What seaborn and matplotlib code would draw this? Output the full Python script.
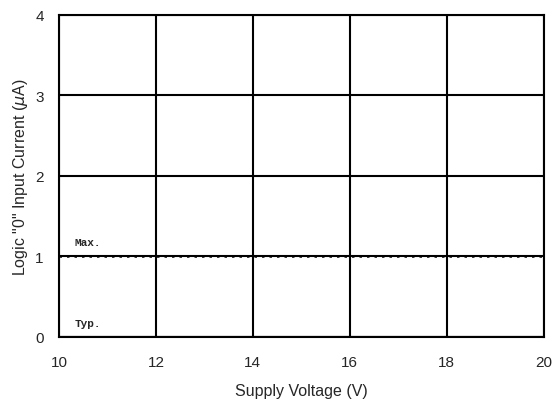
import numpy as np
import pandas as pd
import seaborn as sns
import matplotlib.pyplot as plt

# data
voltage = [10, 12, 14, 16, 18, 20]
i_max = [1.0, 1.0, 1.0, 1.0, 1.0, 1.0]
i_typ = [0.0, 0.0, 0.0, 0.0, 0.0, 0.0]
x_ticks = [10, 12, 14, 16, 18, 20]
y_ticks = [0, 1, 2, 3, 4]

sns.set_style('white')
plt.rcParams['font.family'] = ['Liberation Sans', 'DejaVu Sans']

df = pd.DataFrame({'voltage': voltage, 'max': i_max, 'typ': i_typ})

fig = plt.figure(figsize=(5.56, 4.10), dpi=100)
ax = fig.add_axes([0.106, 0.176, 0.872, 0.785])

sns.lineplot(data=df, x='voltage', y='max', ax=ax, color='black',
             linewidth=1.8, linestyle=(0, (1, 2)))
sns.lineplot(data=df, x='voltage', y='typ', ax=ax, color='black', linewidth=1.5)

ax.set_xlim(10, 20)
ax.set_ylim(0, 4)
ax.set_xticks(x_ticks)
ax.set_yticks(y_ticks)
ax.grid(True, color='black', linewidth=1.5)
for s in ax.spines.values():
    s.set_color('black')
    s.set_linewidth(1.5)
ax.tick_params(axis='x', length=0, labelsize=11, pad=13)
ax.tick_params(axis='y', length=0, labelsize=11, pad=11)

ax.set_xlabel('Supply Voltage (V)', fontsize=11.5, labelpad=10)
ax.set_ylabel('Logic "0" Input Current ($\\mu$A)', fontsize=11.5, labelpad=4)

ax.text(10.33, 1.14, 'Max.', fontsize=8, family='Liberation Mono', fontweight='bold')
ax.text(10.33, 0.14, 'Typ.', fontsize=8, family='Liberation Mono', fontweight='bold')

fig.savefig('out.png', dpi=100)
